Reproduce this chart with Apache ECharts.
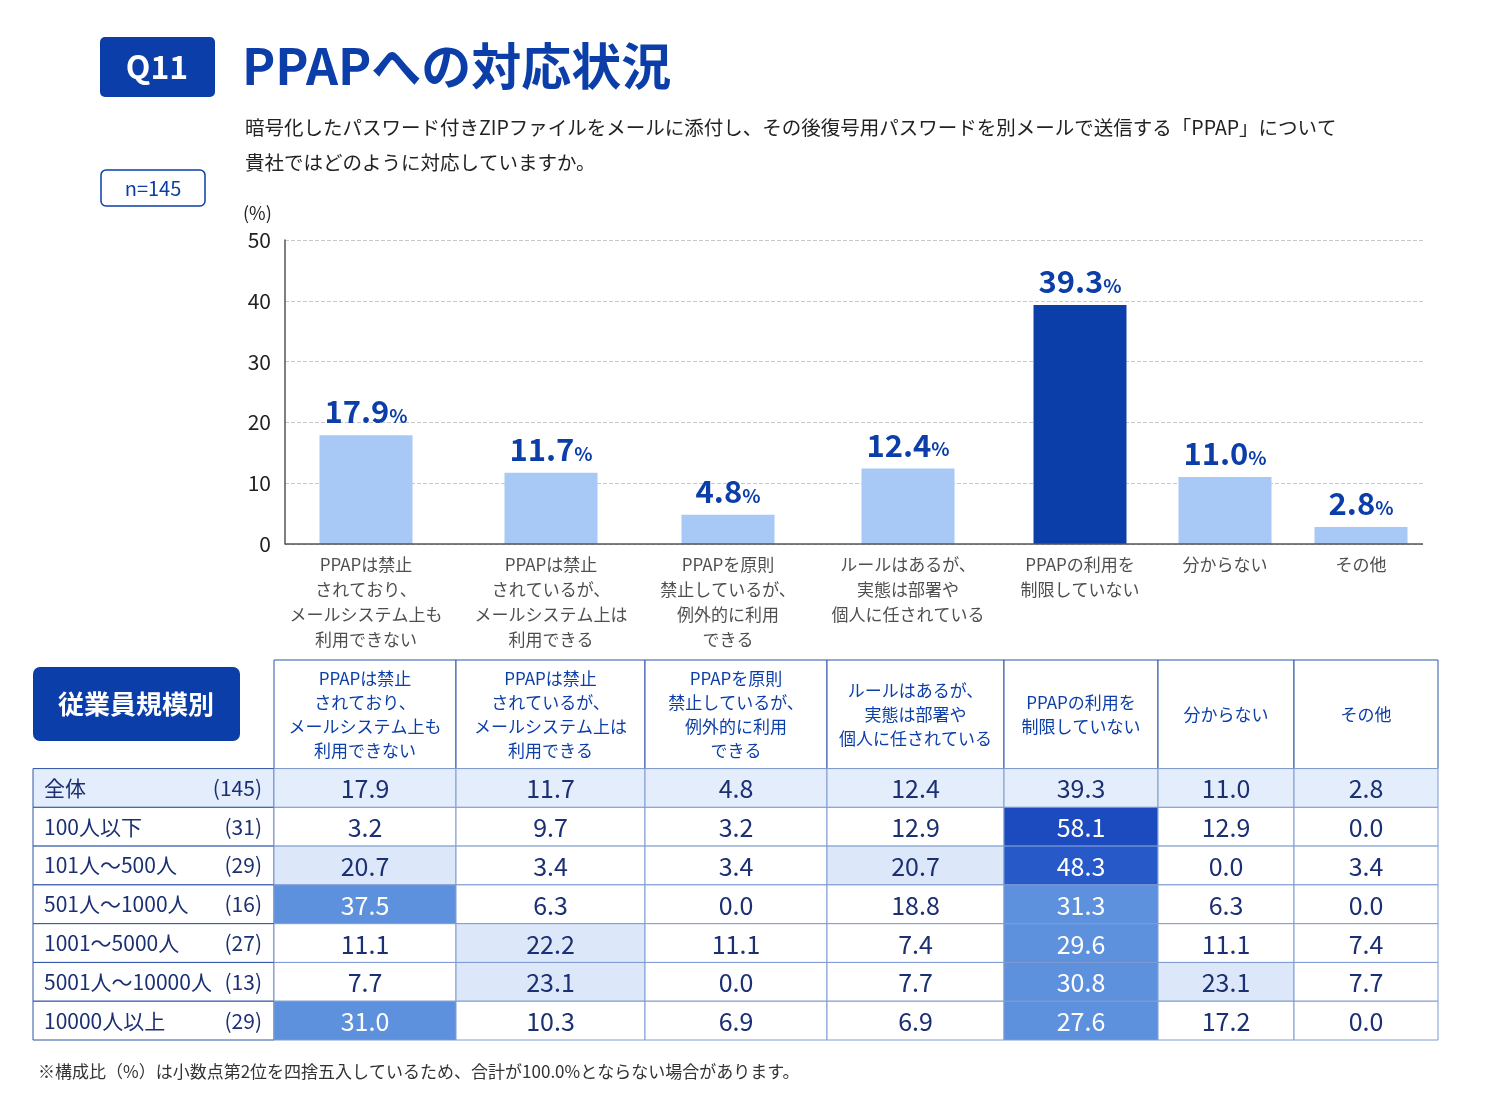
<!DOCTYPE html>
<html><head><meta charset="utf-8">
<script src="https://cdn.jsdelivr.net/npm/echarts@6/dist/echarts.min.js"></script>
<style>html,body{margin:0;padding:0;background:#fff}#c{width:1496px;height:1108px}</style>
</head><body><div id="c"></div>
<script>
const categories = [
  'PPAPは禁止\nされており、\nメールシステム上も\n利用できない',
  'PPAPは禁止\nされているが、\nメールシステム上は\n利用できる',
  'PPAPを原則\n禁止しているが、\n例外的に利用\nできる',
  'ルールはあるが、\n実態は部署や\n個人に任されている',
  'PPAPの利用を\n制限していない',
  '分からない',
  'その他'
];
const overallValues = [17.9, 11.7, 4.8, 12.4, 39.3, 11.0, 2.8];
const yTicks = [0, 10, 20, 30, 40, 50];
const rowLabels = ['全体','100人以下','101人～500人','501人～1000人','1001～5000人','5001人～10000人','10000人以上'];
const rowCounts = ['(145)','(31)','(29)','(16)','(27)','(13)','(29)'];
const tableValues = [
  [17.9, 11.7, 4.8, 12.4, 39.3, 11.0, 2.8],
  [3.2, 9.7, 3.2, 12.9, 58.1, 12.9, 0.0],
  [20.7, 3.4, 3.4, 20.7, 48.3, 0.0, 3.4],
  [37.5, 6.3, 0.0, 18.8, 31.3, 6.3, 0.0],
  [11.1, 22.2, 11.1, 7.4, 29.6, 11.1, 7.4],
  [7.7, 23.1, 0.0, 7.7, 30.8, 23.1, 7.7],
  [31.0, 10.3, 6.9, 6.9, 27.6, 17.2, 0.0]
];

// layout
const colEdges = [33, 274, 456, 645, 827, 1004, 1158, 1294, 1438];
const barCenters = [366, 551, 728, 908, 1080, 1225, 1361];
const HEAD = 2.8;
const NAVY = '#0b3ea8', TXT = '#1b2f73', FONT = '"Noto Sans CJK JP","Noto Sans",sans-serif';

function cellFill(r, v) {
  if (r === 0) return '#e4edfb';
  if (v >= 50) return '#1c4bc0';
  if (v >= 40) return '#2759c9';
  if (v >= 25) return '#5d91de';
  if (v >= 20) return '#dce8fa';
  return '#ffffff';
}

const barData = overallValues.map((v, i) => ({value: [barCenters[i], v], itemStyle: {color: i === 4 ? NAVY : '#a8c8f5'}}));
const catLabelData = categories.map((c, i) => ({value: [barCenters[i], 0], name: c}));
const cellData = [];
tableValues.forEach((row, r) => row.forEach((v, c) => cellData.push([c, r, v])));

const chart = echarts.init(document.getElementById('c'));
chart.setOption({
  animation: false,
  textStyle: {fontFamily: FONT},
  graphic: [
    {type: 'rect', shape: {x: 100, y: 37, width: 115, height: 60, r: 5}, style: {fill: NAVY}},
    {type: 'text', x: 157, y: 67, style: {text: 'Q11', fill: '#fff', font: 'bold 32px ' + FONT, align: 'center', verticalAlign: 'middle'}},
    {type: 'text', x: 242, y: 66, style: {text: 'PPAPへの対応状況', fill: NAVY, font: 'bold 50px ' + FONT, verticalAlign: 'middle'}},
    {type: 'text', x: 245, y: 110, style: {text: '暗号化したパスワード付きZIPファイルをメールに添付し、その後復号用パスワードを別メールで送信する「PPAP」について\n貴社ではどのように対応していますか。', fill: '#222', font: '19.5px ' + FONT, lineHeight: 35}},
    {type: 'rect', shape: {x: 101, y: 170, width: 104, height: 36, r: 5}, style: {fill: '#fff', stroke: NAVY, lineWidth: 1.5}},
    {type: 'text', x: 153, y: 188, style: {text: 'n=145', fill: NAVY, font: '20px ' + FONT, align: 'center', verticalAlign: 'middle'}},
    {type: 'text', x: 243, y: 213, style: {text: '(%)', fill: '#222', font: '18px ' + FONT, verticalAlign: 'middle'}},
    {type: 'rect', shape: {x: 33, y: 667, width: 207, height: 74, r: 7}, style: {fill: NAVY}},
    {type: 'text', x: 136, y: 704, style: {text: '従業員規模別', fill: '#fff', font: 'bold 26px ' + FONT, align: 'center', verticalAlign: 'middle'}},
    {type: 'text', x: 38, y: 1072, style: {text: '※構成比（%）は小数点第2位を四捨五入しているため、合計が100.0%とならない場合があります。', fill: '#333', font: '17px ' + FONT, verticalAlign: 'middle'}}
  ],
  grid: [
    {left: 285, right: 73, top: 240, height: 304},
    {left: 33, width: 1405, top: 660, height: 380}
  ],
  xAxis: [
    {gridIndex: 0, type: 'value', min: 285, max: 1423, axisLine: {show: false}, axisTick: {show: false}, axisLabel: {show: false}, splitLine: {show: false}},
    {gridIndex: 1, type: 'value', min: 33, max: 1438, show: false}
  ],
  yAxis: [
    {gridIndex: 0, type: 'value', min: 0, max: 50, interval: 10,
     axisLine: {show: true, lineStyle: {color: '#555', width: 1.5}},
     axisTick: {show: false},
     axisLabel: {color: '#222', fontSize: 21, margin: 14, formatter: v => yTicks.includes(v) ? String(v) : ''},
     splitLine: {show: true, lineStyle: {type: 'dashed', color: '#c8c8c8'}}},
    {gridIndex: 1, type: 'value', min: 0, max: HEAD + 7, inverse: true, show: false}
  ],
  series: [
    {type: 'bar', xAxisIndex: 0, yAxisIndex: 0, barWidth: 93, data: barData,
     markLine: {silent: true, symbol: 'none', label: {show: false}, lineStyle: {color: '#555', width: 1.5, type: 'solid'}, data: [{yAxis: 0}]},
     label: {show: true, position: 'top', distance: 8,
       formatter: p => '{n|' + p.value[1].toFixed(1) + '}{p|%}',
       rich: {n: {fontSize: 31, fontWeight: 'bold', color: NAVY, fontFamily: FONT}, p: {fontSize: 19, fontWeight: 'bold', color: NAVY, fontFamily: FONT, padding: [8, 0, 0, 0]}}}},
    {type: 'scatter', xAxisIndex: 0, yAxisIndex: 0, symbolSize: 0, data: catLabelData, silent: true,
     label: {show: true, position: 'bottom', distance: 8, formatter: p => p.name, color: '#222', fontSize: 17, lineHeight: 25, align: 'center', verticalAlign: 'top'}},
    {type: 'custom', xAxisIndex: 1, yAxisIndex: 1, data: categories.map((c, i) => [i, c]),
     renderItem: (params, api) => {
       const i = api.value(0);
       const p0 = api.coord([colEdges[i+1], 0]), p1 = api.coord([colEdges[i+2], HEAD]);
       return {type: 'group', children: [
         {type: 'rect', shape: {x: p0[0], y: p0[1], width: p1[0]-p0[0], height: p1[1]-p0[1]}, style: {fill: '#fff', stroke: '#2f55a8', lineWidth: 1}},
         {type: 'text', style: {x: (p0[0]+p1[0])/2, y: (p0[1]+p1[1])/2, text: categories[i], fill: NAVY, font: '17px ' + FONT, lineHeight: 24, align: 'center', verticalAlign: 'middle'}}
       ]};
     }},
    {type: 'custom', xAxisIndex: 1, yAxisIndex: 1, data: rowLabels.map((l, i) => [i, l]),
     renderItem: (params, api) => {
       const r = api.value(0);
       const p0 = api.coord([colEdges[0], HEAD + r]), p1 = api.coord([colEdges[1], HEAD + r + 1]);
       const cy = (p0[1]+p1[1])/2;
       return {type: 'group', children: [
         {type: 'rect', shape: {x: p0[0], y: p0[1], width: p1[0]-p0[0], height: p1[1]-p0[1]}, style: {fill: r === 0 ? '#e4edfb' : '#fff', stroke: '#2f55a8', lineWidth: 1}},
         {type: 'text', style: {x: p0[0] + 11, y: cy, text: rowLabels[r], fill: TXT, font: '21px ' + FONT, verticalAlign: 'middle'}},
         {type: 'text', style: {x: p1[0] - 12, y: cy, text: rowCounts[r], fill: TXT, font: '21px ' + FONT, align: 'right', verticalAlign: 'middle'}}
       ]};
     }},
    {type: 'custom', xAxisIndex: 1, yAxisIndex: 1, data: cellData,
     renderItem: (params, api) => {
       const c = api.value(0), r = api.value(1), v = api.value(2);
       const p0 = api.coord([colEdges[c+1], HEAD + r]), p1 = api.coord([colEdges[c+2], HEAD + r + 1]);
       const white = r !== 0 && v >= 25;
       return {type: 'group', children: [
         {type: 'rect', shape: {x: p0[0], y: p0[1], width: p1[0]-p0[0], height: p1[1]-p0[1]}, style: {fill: cellFill(r, v), stroke: '#7f9bd0', lineWidth: 1}},
         {type: 'text', style: {x: (p0[0]+p1[0])/2, y: (p0[1]+p1[1])/2 + 1, text: v.toFixed(1), fill: white ? '#fff' : TXT, font: '25px ' + FONT, align: 'center', verticalAlign: 'middle'}}
       ]};
     }}
  ]
});
</script></body></html>
